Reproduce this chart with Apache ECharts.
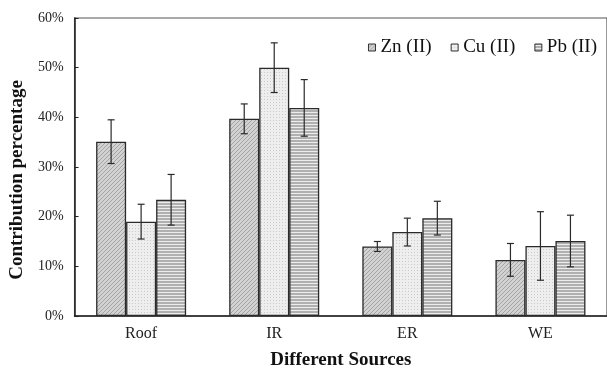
<!DOCTYPE html>
<html><head><meta charset="utf-8">
<script src="https://cdn.jsdelivr.net/npm/echarts@6/dist/echarts.min.js"></script>
<style>html,body{margin:0;padding:0;background:#fff}#c{width:607px;height:375px}</style>
</head><body><div id="c"></div>
<script>
const categories = ['Roof', 'IR', 'ER', 'WE'];
const seriesNames = ['Zn (II)', 'Cu (II)', 'Pb (II)'];
const znValues = [35.1, 39.7, 14.0, 11.3];
const cuValues = [19.0, 50.0, 16.9, 14.1];
const pbValues = [23.4, 41.9, 19.7, 15.1];
const znErrors = [4.4, 3.0, 1.0, 3.3];
const cuErrors = [3.5, 5.0, 2.8, 6.9];
const pbErrors = [5.1, 5.7, 3.4, 5.2];
const yTicks = [0, 10, 20, 30, 40, 50, 60];

function makePattern(kind) {
  const c = document.createElement('canvas');
  const ctx = c.getContext('2d');
  if (kind === 'diag') {
    c.width = 4; c.height = 4;
    ctx.fillStyle = '#d2d2d2'; ctx.fillRect(0, 0, 4, 4);
    ctx.fillStyle = '#a4a4a4';
    for (let i = 0; i < 4; i++) { ctx.fillRect(i, 3 - i, 1, 1); }
  } else if (kind === 'dots') {
    c.width = 3; c.height = 3;
    ctx.fillStyle = '#eeeeee'; ctx.fillRect(0, 0, 3, 3);
    ctx.fillStyle = '#cacaca'; ctx.fillRect(0, 0, 1, 1);
  } else {
    c.width = 4; c.height = 3;
    ctx.fillStyle = '#b0b0b0'; ctx.fillRect(0, 0, 4, 3);
    ctx.fillStyle = '#ececec'; ctx.fillRect(0, 1, 4, 1);
  }
  return { image: c, repeat: 'repeat' };
}
const patterns = [makePattern('diag'), makePattern('dots'), makePattern('horiz')];
const valueSets = [znValues, cuValues, pbValues];
const errorSets = [znErrors, cuErrors, pbErrors];
const BW = 30;

const chart = echarts.init(document.getElementById('c'), null, { renderer: 'canvas' });
const font = 'Liberation Serif';

const series = [];
seriesNames.forEach((name, s) => {
  series.push({
    name: name, type: 'bar', data: valueSets[s], barWidth: BW, barGap: '0%',
    itemStyle: { color: patterns[s], borderColor: '#2a2a2a', borderWidth: 1.3 },
    emphasis: { disabled: true }, z: 2
  });
});
seriesNames.forEach((name, s) => {
  const data = categories.map((c, i) => [i, valueSets[s][i] - errorSets[s][i], valueSets[s][i] + errorSets[s][i]]);
  series.push({
    type: 'custom', z: 5, silent: true,
    renderItem: function (params, api) {
      const off = (s - 1) * BW;
      const lo = api.coord([api.value(0), api.value(1)]);
      const hi = api.coord([api.value(0), api.value(2)]);
      const x = lo[0] + off, cap = 3.5;
      const st = { stroke: '#2a2a2a', lineWidth: 1.2 };
      return { type: 'group', children: [
        { type: 'line', shape: { x1: x, y1: lo[1], x2: x, y2: hi[1] }, style: st },
        { type: 'line', shape: { x1: x - cap, y1: lo[1], x2: x + cap, y2: lo[1] }, style: st },
        { type: 'line', shape: { x1: x - cap, y1: hi[1], x2: x + cap, y2: hi[1] }, style: st }
      ]};
    },
    data: data
  });
});

chart.setOption({
  animation: false,
  textStyle: { fontFamily: font },
  grid: { left: 74, right: -7, top: 18, bottom: 52, show: true, borderColor: '#555', borderWidth: 1.2, backgroundColor: 'transparent' },
  legend: {
    data: seriesNames, right: 5, top: 33, itemWidth: 7, itemHeight: 7, itemGap: 19,
    textStyle: { fontFamily: font, fontSize: 19, color: '#111' },
    icon: 'rect', itemStyle: { borderColor: '#333', borderWidth: 1 }
  },
  xAxis: {
    type: 'category', data: categories,
    name: 'Different Sources', nameLocation: 'middle', nameGap: 35,
    nameTextStyle: { fontFamily: font, fontSize: 19, fontWeight: 'bold', color: '#111' },
    axisLine: { lineStyle: { color: '#222', width: 1.5 } },
    axisTick: { inside: true, length: 4, lineStyle: { color: '#222' } },
    axisLabel: { fontFamily: font, fontSize: 16, color: '#222', margin: 10 }
  },
  yAxis: {
    type: 'value', min: yTicks[0], max: yTicks[yTicks.length - 1], interval: 10,
    name: 'Contribution percentage', nameLocation: 'middle', nameGap: 44,
    nameTextStyle: { fontFamily: font, fontSize: 19, fontWeight: 'bold', color: '#111', padding: [0, 26, 0, 0] },
    axisLine: { show: true, lineStyle: { color: '#222', width: 1.5 } },
    axisTick: { show: true, inside: true, length: 4, lineStyle: { color: '#222' } },
    splitLine: { show: false },
    axisLabel: { fontFamily: font, fontSize: 14, color: '#222', margin: 11, formatter: '{value}%' }
  },
  series: series
});
</script></body></html>
